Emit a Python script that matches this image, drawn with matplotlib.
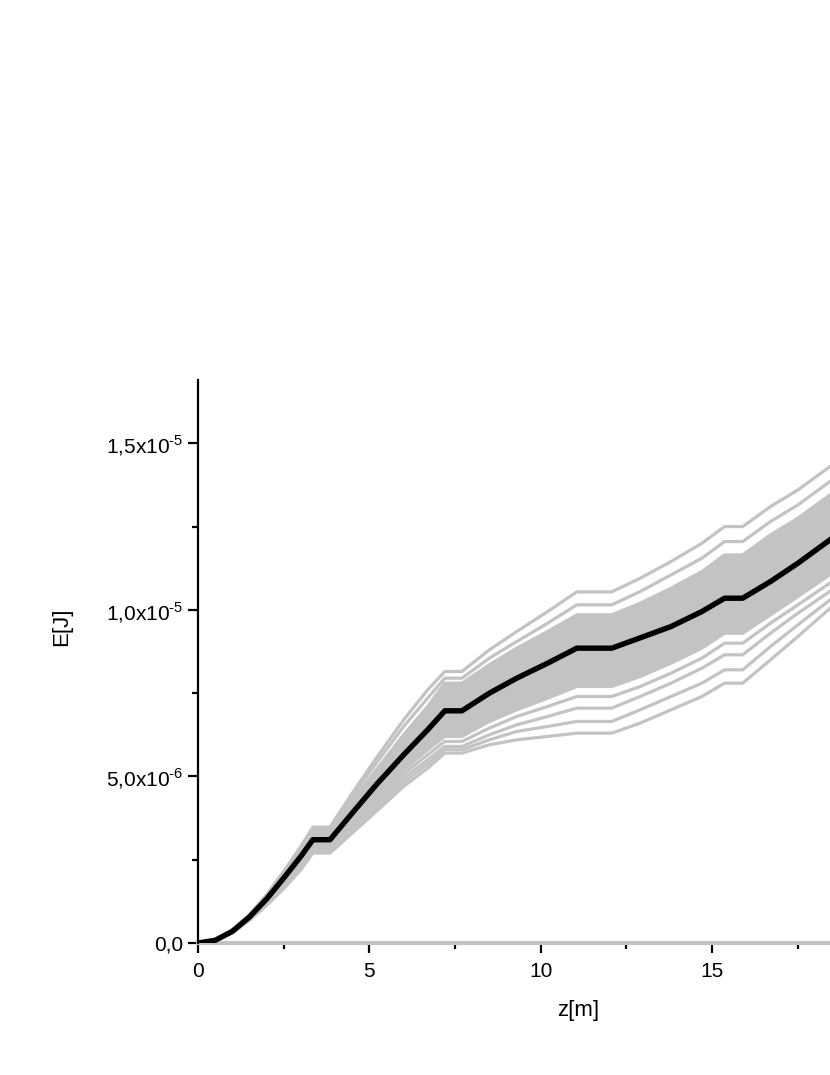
import numpy as np
import matplotlib
matplotlib.use("Agg")
import matplotlib.pyplot as plt
from matplotlib.ticker import FixedLocator, FixedFormatter, MultipleLocator

plt.rcParams['font.family'] = ['Liberation Sans', 'DejaVu Sans']
plt.rcParams['mathtext.fontset'] = 'custom'
plt.rcParams['mathtext.rm'] = 'Liberation Sans'

# ---- data (E in units of 1e-6 J) ----
z = [0, 0.5, 1.0, 1.5, 2.0, 2.5, 3.0, 3.35, 3.85, 4.5, 5.2, 6.0, 6.7, 7.2, 7.7,
     8.5, 9.3, 10.2, 11.05, 12.07, 12.9, 13.8, 14.7, 15.36, 15.89, 16.7, 17.5, 18.5]
E_mean = [0, 0.08, 0.35, 0.78, 1.32, 1.95, 2.6, 3.1, 3.1, 3.9, 4.75, 5.65, 6.4, 6.97, 6.97,
          7.5, 7.95, 8.4, 8.85, 8.85, 9.16, 9.5, 9.95, 10.35, 10.35, 10.85, 11.4, 12.15]
E_up1 = [0, 0.09, 0.38, 0.85, 1.45, 2.15, 2.9, 3.48, 3.48, 4.5, 5.55, 6.7, 7.6, 8.15, 8.15,
         8.8, 9.35, 9.95, 10.54, 10.54, 10.95, 11.45, 12.0, 12.5, 12.5, 13.1, 13.6, 14.35]
E_up2 = [0, 0.09, 0.37, 0.83, 1.42, 2.1, 2.82, 3.42, 3.42, 4.38, 5.4, 6.5, 7.35, 7.95, 7.95,
         8.55, 9.05, 9.6, 10.15, 10.15, 10.55, 11.05, 11.55, 12.05, 12.05, 12.65, 13.15, 13.9]
E_band_top = [0, 0.09, 0.37, 0.82, 1.4, 2.05, 2.75, 3.35, 3.35, 4.25, 5.2, 6.25, 7.1, 7.8, 7.8,
              8.35, 8.85, 9.35, 9.85, 9.85, 10.2, 10.65, 11.15, 11.65, 11.65, 12.25, 12.75, 13.5]
E_band_bot = [0, 0.07, 0.32, 0.72, 1.2, 1.75, 2.35, 2.85, 2.85, 3.55, 4.35, 5.2, 5.8, 6.2, 6.2,
              6.65, 7.0, 7.35, 7.7, 7.7, 8.0, 8.4, 8.85, 9.3, 9.3, 9.85, 10.4, 11.1]
E_lo4 = [0, 0.07, 0.31, 0.71, 1.18, 1.72, 2.3, 2.8, 2.8, 3.48, 4.25, 5.08, 5.65, 6.05, 6.05,
         6.45, 6.8, 7.1, 7.4, 7.4, 7.7, 8.1, 8.55, 9.0, 9.0, 9.6, 10.15, 10.85]
E_lo3 = [0, 0.07, 0.31, 0.7, 1.16, 1.68, 2.26, 2.76, 2.76, 3.42, 4.15, 4.95, 5.5, 5.9, 5.9,
         6.25, 6.55, 6.8, 7.05, 7.05, 7.4, 7.8, 8.25, 8.65, 8.65, 9.3, 9.9, 10.6]
E_lo2 = [0, 0.07, 0.3, 0.69, 1.15, 1.65, 2.23, 2.73, 2.73, 3.36, 4.05, 4.82, 5.38, 5.8, 5.8,
         6.1, 6.35, 6.5, 6.65, 6.65, 7.0, 7.4, 7.8, 8.2, 8.2, 8.9, 9.55, 10.35]
E_lo1 = [0, 0.07, 0.3, 0.68, 1.13, 1.63, 2.2, 2.7, 2.7, 3.3, 3.95, 4.7, 5.25, 5.7, 5.7,
         5.95, 6.1, 6.2, 6.3, 6.3, 6.6, 7.0, 7.4, 7.8, 7.8, 8.5, 9.2, 10.1]

x_major = [0, 5, 10, 15]
x_labels = ['0', '5', '10', '15']
y_major = [0, 5e-6, 1e-5, 1.5e-5]
y_labels = ['0,0', r'5,0x10$^{\text{-6}}$', r'1,0x10$^{\text{-5}}$',
            r'1,5x10$^{\text{-5}}$']

SC = 1e-6
GRAY = '#c3c3c3'

fig = plt.figure(figsize=(8.3, 10.75), dpi=100)
ax = fig.add_axes([198/830, 132/1075, 761/830, 563/1075])

zz = np.array(z)
ax.fill_between(zz, np.array(E_band_bot)*SC, np.array(E_band_top)*SC, color=GRAY, lw=0, zorder=2)
for arr in (E_up1, E_up2, E_band_top, E_band_bot, E_lo4, E_lo3, E_lo2, E_lo1):
    ax.plot(zz, np.array(arr)*SC, color=GRAY, lw=2.3, zorder=2, solid_joinstyle='round')
ax.plot(zz, np.array(E_mean)*SC, color='black', lw=3.9, zorder=4, solid_joinstyle='round')

ax.set_xlim(0, 22.2)
ax.set_ylim(0, 1.69e-5)

for s in ('top', 'right'):
    ax.spines[s].set_visible(False)
ax.spines['left'].set_linewidth(1.6)
ax.spines['left'].set_zorder(5)
ax.spines['bottom'].set_color(GRAY)
ax.spines['bottom'].set_linewidth(3.0)

ax.xaxis.set_major_locator(FixedLocator(x_major))
ax.xaxis.set_major_formatter(FixedFormatter(x_labels))
ax.xaxis.set_minor_locator(MultipleLocator(2.5))
ax.yaxis.set_major_locator(FixedLocator(y_major))
ax.yaxis.set_major_formatter(FixedFormatter(y_labels))
ax.yaxis.set_minor_locator(MultipleLocator(2.5e-6))

ax.tick_params(axis='both', which='major', direction='out', length=7.5, width=1.6,
               color='black', labelsize=15, pad=3)
ax.tick_params(axis='both', which='minor', direction='out', length=4, width=1.6, color='black')
ax.tick_params(axis='x', which='major', pad=6)

ax.set_xlabel('z[m]', fontsize=16)
ax.xaxis.set_label_coords(0.5, -57/563)
ax.set_ylabel('E[J]', fontsize=16)
ax.yaxis.set_label_coords(-(198-72)/761, (943-627)/563)

fig.savefig('out.png', dpi=100)
